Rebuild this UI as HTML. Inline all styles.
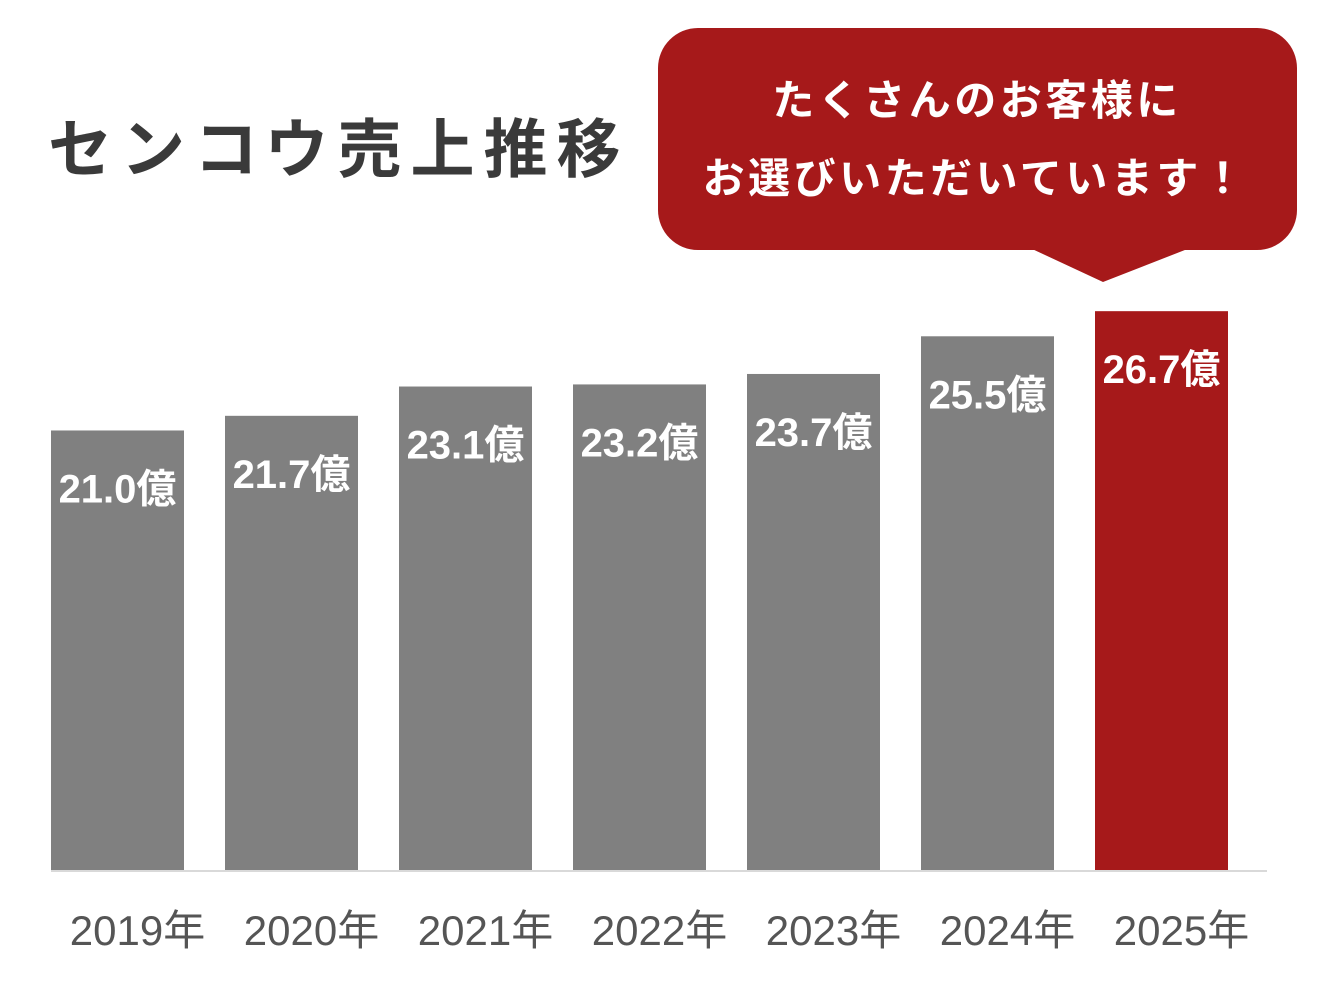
<!DOCTYPE html>
<html><head><meta charset="utf-8"><style>
html,body{margin:0;padding:0;background:#fff;}
body{width:1318px;height:998px;position:relative;overflow:hidden;font-family:"Liberation Sans","Noto Sans CJK JP",sans-serif;}
#title{position:absolute;left:48px;top:108px;font-size:64px;font-weight:bold;color:#3a3a3a;letter-spacing:9px;white-space:nowrap;line-height:84px;}
</style></head><body>
<div id="title">センコウ売上推移</div>
<svg id="chart" width="1318" height="998" style="position:absolute;left:0;top:0">
 <g>
  <rect x="658" y="28" width="639" height="222" rx="40" fill="#a6191a"/>
  <polygon points="1030,248 1190,248 1103,282" fill="#a6191a"/>
  <text x="977" y="115" text-anchor="middle" fill="#fff" font-size="42" font-weight="bold" font-family="Liberation Sans, Noto Sans CJK JP, sans-serif" letter-spacing="3.5">たくさんのお客様に</text>
  <text x="975" y="193" text-anchor="middle" fill="#fff" font-size="42" font-weight="bold" font-family="Liberation Sans, Noto Sans CJK JP, sans-serif" letter-spacing="3.5">お選びいただいています！</text>
 </g>
 <g id="bars"></g>
 <line x1="51" y1="871" x2="1267" y2="871" stroke="#d9d9d9" stroke-width="2"/>
</svg>
<script>
const categories = ["2019年","2020年","2021年","2022年","2023年","2024年","2025年"];
const values = [21.0,21.7,23.1,23.2,23.7,25.5,26.7];
const valueLabels = ["21.0億","21.7億","23.1億","23.2億","23.7億","25.5億","26.7億"];
const NS="http://www.w3.org/2000/svg";
const baseY=870, pxPerUnit=20.93, x0=51, step=174, bw=133;
function yScale(v){return baseY - v*pxPerUnit;}
function xScale(i){return x0 + i*step;}
const g=document.getElementById('bars');
categories.forEach((c,i)=>{
  const x=xScale(i), y=yScale(values[i]);
  const r=document.createElementNS(NS,'rect');
  r.setAttribute('x',x);r.setAttribute('y',y);r.setAttribute('width',bw);r.setAttribute('height',baseY-y);
  r.setAttribute('fill', i===categories.length-1?'#a6191a':'#808080');
  
  
  g.appendChild(r);
  const t=document.createElementNS(NS,'text');
  t.setAttribute('x',x+bw/2);t.setAttribute('y',y+72);
  t.setAttribute('text-anchor','middle');t.setAttribute('fill','#fff');
  t.setAttribute('font-size','40');t.setAttribute('font-weight','bold');
  t.setAttribute('font-family','Liberation Sans, Noto Sans CJK JP, sans-serif');
  t.textContent=valueLabels[i];
  
  
  g.appendChild(t);
  const l=document.createElementNS(NS,'text');
  l.setAttribute('x',x+bw/2+20);l.setAttribute('y',945);
  l.setAttribute('text-anchor','middle');l.setAttribute('fill','#555');
  l.setAttribute('font-size','42');
  l.setAttribute('font-family','Liberation Sans, Noto Sans CJK JP, sans-serif');
  l.textContent=c;
  
  
  g.appendChild(l);
});
</script>
</body></html>
